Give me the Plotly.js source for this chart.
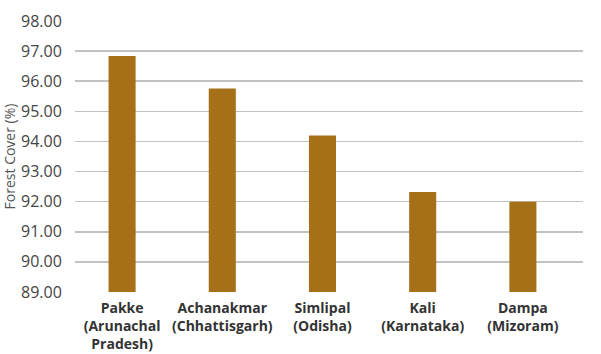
<!DOCTYPE html>
<html>
<head>
<meta charset="utf-8">
<script src="https://cdn.plot.ly/plotly-3.0.1.min.js"></script>
<style>html,body{margin:0;padding:0;background:#fff;}#chart{width:601px;height:354px;}</style>
</head>
<body>
<div id="chart"></div>
<script>
const categories = ["<b>Pakke</b><br><b>(Arunachal</b><br><b>Pradesh)</b>", "<b>Achanakmar</b><br><b>(Chhattisgarh)</b>", "<b>Simlipal</b><br><b>(Odisha)</b>", "<b>Kali</b><br><b>(Karnataka)</b>", "<b>Dampa</b><br><b>(Mizoram)</b>"];
const forestCover = [96.84, 95.76, 94.20, 92.32, 92.00];
const yTicks = [89, 90, 91, 92, 93, 94, 95, 96, 97, 98];

const trace = {
  type: "bar",
  x: categories,
  y: forestCover,
  width: 0.27,
  marker: {color: "#a67019"},
  hoverinfo: "none"
};

const layout = {
  width: 601, height: 354,
  margin: {l: 75, r: 18, t: 21, b: 62},
  paper_bgcolor: "#ffffff", plot_bgcolor: "#ffffff",
  showlegend: false,
  font: {family: "Open Sans, sans-serif", color: "#444"},
  xaxis: {
    type: "category",
    range: [-0.47, 4.6],
    showgrid: false, zeroline: false, showline: false,
    ticks: "outside", ticklen: 3, tickcolor: "rgba(0,0,0,0)",
    tickfont: {family: "Open Sans, sans-serif", size: 14, color: "#333"},
    tickangle: 0
  },
  yaxis: {
    range: [89, 98],
    tickvals: yTicks,
    ticktext: yTicks.map(v => v.toFixed(2)),
    showgrid: true, gridcolor: "#c2c2c2", gridwidth: 1.5,
    zeroline: false, showline: false,
    ticks: "outside", ticklen: 9, tickcolor: "rgba(0,0,0,0)",
    tickfont: {family: "Open Sans, sans-serif", size: 16, color: "#444"},
    title: {text: "Forest Cover (%)", font: {family: "Open Sans, sans-serif", size: 14, color: "#555"}, standoff: 4}
  }
};

Plotly.newPlot("chart", [trace], layout, {displayModeBar: false, staticPlot: true});
</script>
</body>
</html>
